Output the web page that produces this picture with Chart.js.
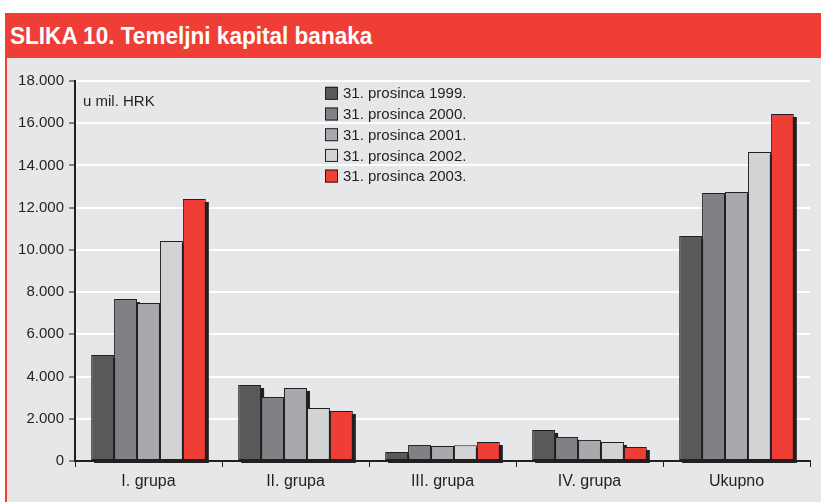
<!DOCTYPE html>
<html>
<head>
<meta charset="utf-8">
<script src="https://cdn.jsdelivr.net/npm/chart.js@4.4.1/dist/chart.umd.min.js"></script>
<style>
  html,body{margin:0;padding:0;background:#fff;width:821px;height:502px;overflow:hidden;font-family:"Liberation Sans",Arial,sans-serif;}
  #head{position:absolute;left:5px;top:13px;width:816px;height:45px;background:#ef3e36;}
  #head span{position:absolute;left:5px;top:9px;color:#fff;font:bold 24px "Liberation Sans",Arial,sans-serif;
    transform:scaleX(0.94);transform-origin:left top;white-space:nowrap;}
  #panel{position:absolute;left:5px;top:58px;width:816px;height:444px;background:#e6e7e9;border-left:2px solid #ef3e36;box-sizing:border-box;}
  #wrap{position:absolute;left:7px;top:58px;width:814px;height:444px;}
  #unit{position:absolute;left:83px;top:92px;font-size:15px;color:#231f20;}
</style>
</head>
<body>
<div id="head"><span>SLIKA 10. Temeljni kapital banaka</span></div>
<div id="panel"></div>
<div id="wrap"><canvas id="c"></canvas></div>
<div id="unit">u mil. HRK</div>
<script>
// kategorije i vrijednosti (u mil. HRK)
const groups=['I. grupa','II. grupa','III. grupa','IV. grupa','Ukupno'];
const dates=['31. prosinca 1999.','31. prosinca 2000.','31. prosinca 2001.','31. prosinca 2002.','31. prosinca 2003.'];
const y1999=[5020,3600,430,1470,10660];
const y2000=[7670,3030,760,1140,12690];
const y2001=[7480,3460,710,1000,12740];
const y2002=[10420,2510,750,900,14640];
const y2003=[12410,2370,900,660,16440];
const colors=['#58595b','#808184','#a7a9ac','#d1d3d4','#ef3e36'];
const INK='#231f20';
const FONT='"Liberation Sans", Arial, sans-serif';

const series=[y1999,y2000,y2001,y2002,y2003];

function fmt(v){return String(v).replace(/\B(?=(\d{3})+(?!\d))/g,'.');}

// sjena iza stupaca (pomak 3px desno/dolje)
const shadow={id:'shadow',
  beforeDatasetsDraw(ch){const c=ch.ctx;c.save();c.fillStyle=INK;
    ch.data.datasets.forEach((d,i)=>{
      ch.getDatasetMeta(i).data.forEach(b=>{
        const p=b.getProps(['x','y','base','width']);
        c.fillRect(p.x-p.width/2+3,p.y+3,p.width,p.base-p.y);
      });
    });
    c.restore();}};

// legenda unutar grafikona
const legendIn={id:'legendIn',
  afterDraw(ch){const c=ch.ctx;c.save();
    c.font='15px '+FONT;c.textBaseline='middle';
    ch.data.datasets.forEach((d,i)=>{const y=35.3+i*20.7, x=318;
      c.fillStyle=d.backgroundColor;c.fillRect(x,y-6.5,13,13);
      c.strokeStyle=INK;c.lineWidth=1;c.strokeRect(x+0.5,y-6,12,12);
      c.fillStyle=INK;c.fillText(d.label,x+18,y+1);});
    c.restore();}};

new Chart(document.getElementById('c'),{
  type:'bar',
  data:{labels:groups,datasets:series.map((s,i)=>({label:dates[i],data:s,backgroundColor:colors[i],
    borderColor:INK,borderWidth:1,borderSkipped:false,
    categoryPercentage:0.78,barPercentage:1}))},
  options:{responsive:true,maintainAspectRatio:false,animation:false,
    layout:{padding:{left:0,right:11,top:23,bottom:0}},
    plugins:{legend:{display:false},tooltip:{enabled:false}},
    scales:{
      x:{z:1,grid:{offset:true,drawOnChartArea:false,tickLength:6,color:INK,lineWidth:1},
        border:{display:true,color:INK,width:2},
        ticks:{color:INK,font:{size:16,family:FONT},padding:5},
        afterFit(s){s.height=41;}},
      y:{min:0,max:18000,
        grid:{color:'#ffffff',lineWidth:2,tickLength:6,tickColor:INK,tickWidth:1},
        border:{display:true,color:INK,width:2},
        ticks:{stepSize:2000,color:INK,padding:5,font:{size:15,family:FONT},
          callback:v=>fmt(v)},
        afterFit(s){s.width=68;}}
    }},
  plugins:[shadow,legendIn]
});
</script>
</body>
</html>
